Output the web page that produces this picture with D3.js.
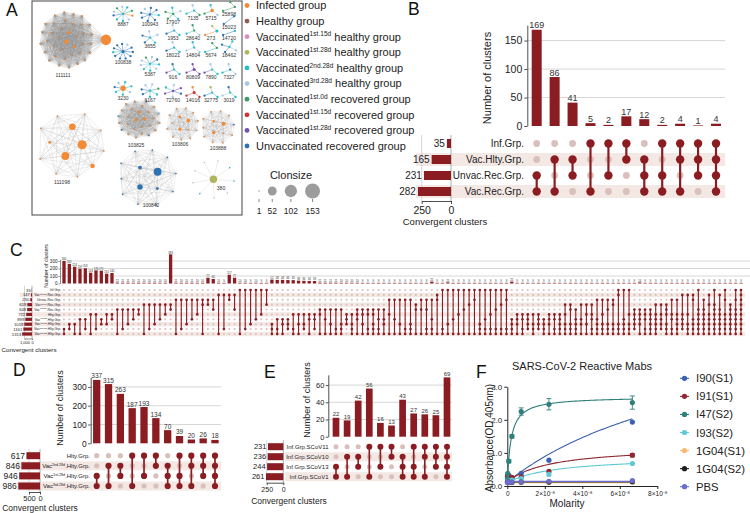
<!DOCTYPE html>
<html>
<head>
<meta charset="utf-8">
<script src="https://cdn.jsdelivr.net/npm/d3@7/dist/d3.min.js"></script>
<style>
  body { margin: 0; background: #fff; }
  svg { font-family: "Liberation Sans", Arial, Helvetica, sans-serif; display: block; }
</style>
</head>
<body>
<svg id="fig" width="750" height="513"></svg>
<script>
// ---------------- data ----------------
// A: groups (legend order)
const groupCodes = ["i", "h", "p", "o", "c", "l", "g", "r", "v", "u"];
const groupColors = ["#F28A36", "#8C5B4F", "#DE8BC4", "#AFB55C", "#27BCCB", "#A8C6E2", "#3A9D69", "#D3302F", "#7251AE", "#2D73B0"];
const groupLabels = [
  "Infected group", "Healthy group",
  "Vaccinated^{1st.15d} healthy group", "Vaccinated^{1st.28d} healthy group",
  "Vaccinated^{2nd.28d} healthy group", "Vaccinated^{3rd.28d} healthy group",
  "Vaccinated^{1st.0d} recovered group", "Vaccinated^{1st.15d} recovered group",
  "Vaccinated^{1st.28d} recovered group", "Unvaccinated recovered group"
];
const clonsizeTicks = [1, 52, 102, 153];

// A: large clusters (one letter per clonotype = group code)
const bigIds = ["111111", "111098", "103825", "103806", "103888", "100842", "380"];
const bigNodes = [
  "iiiiiiiiiiiiiiiiiiiiiiiiiiiiiiiiiiiiii",
  "iiiiiiiiiiiii",
  "iiiiiiiiiiiiiiiiiiiiiiuuucl",
  "iiiiiiiiiiiiiii",
  "iiiiiiiiiiiiiu",
  "uuuuuuuuuuuuuu",
  "oclllcllcl"
];
const bigSizes = [[70, 12, 6, 4], [55, 40, 28, 12, 4], [6, 5, 4], [7, 5, 4], [9, 6, 3], [40, 18, 8, 4], [35]];
const bigTopo = ["full", "full", "full", "full", "full", "full", "star"];

// A: small clusters
const smallIds = ["8887", "100943", "17907", "7135", "5715", "25898", "15023", "14720", "273", "28640", "1953", "3655",
  "100838", "18021", "14804", "5674", "18462", "5387", "916", "80809", "7890", "7327",
  "3230", "6167", "72760", "14016", "32775", "3019"];
const smallNodes = ["cclllgcgiuc", "uuuuuuulc", "ggccgl", "cclg", "igcl", "ggg", "uu", "cul", "cio", "gcgl", "culc", "culcul",
  "uuuuuuuuuclu", "culc", "clcl", "gcg", "cuclu", "cclllucgcl", "cvuc", "vvvv", "cvlc", "ucll",
  "iccluccl", "culcugcl", "vvlucvl", "rrir", "cuoc", "cluc"];
const smallHub = [1, 1, 1, 1, 3, 1, 1, 1, 2, 1, 1, 1, 2, 1, 1, 1, 1, 1, 1, 2, 1, 1, 8, 1, 1, 2, 1, 1];

// B
const bSets = ["Inf.Grp.", "Vac.Hlty.Grp.", "Unvac.Rec.Grp.", "Vac.Rec.Grp."];
const bSetSizes = [35, 165, 231, 282];
const bCounts = [169, 86, 41, 5, 2, 17, 12, 2, 4, 1, 4];
const bMembers = ["23", "13", "12", "03", "02", "01", "123", "023", "013", "012", "0123"];

// C
const cSets = ["Inf.Grp.", "Vac^{1st.15d}.Rec.Grp.", "Unvac.Rec.Grp.", "Vac^{1st.0d}.Rec.Grp.", "Vac^{1st.28d}.Rec.Grp.",
  "Hlty.Grp.", "Vac^{1st.28d}.Hlty.Grp.", "Vac^{1st.15d}.Hlty.Grp.", "Vac^{2nd.28d}.Hlty.Grp.", "Vac^{3rd.28d}.Hlty.Grp."];
const cSetSizes = [35, 147, 230, 619, 648, 772, 899, 1019, 1161, 1313];
const cCounts = [
  300, 262, 224, 197, 203, 144, 176, 171, 131, 140,
  12, 11, 11, 10, 11, 10, 10, 11, 10, 10,
  389, 11, 10, 10, 11, 10, 10, 77, 60, 10, 9, 117, 77,
  10, 10, 9, 10, 9, 9,
  52, 48, 48, 46, 45, 38, 36, 34, 33,
  12, 11, 11, 11, 10, 10, 10, 10, 9, 9, 9, 9,
  9, 9, 9, 9, 9, 9, 9, 9, 9, 25, 9, 9,
  15, 9, 9, 9, 9, 9, 9, 9, 9, 9, 9, 9,
  25, 9, 9, 9, 9, 9, 9, 9, 9, 9, 9, 9,
  9, 9, 9, 9, 9, 9, 9, 9, 9, 9, 9, 9,
  14, 9, 9, 9, 9, 9, 9, 9, 9, 9, 9, 9,
  9, 9, 9, 9, 9, 9, 9, 9
];
const cMembers = [
  "89", "78", "79", "69", "68", "59", "58", "67", "57", "56",
  "49", "48", "47", "46", "45", "39", "38", "37", "36", "35",
  "34", "29", "28", "27", "26", "25", "239", "23", "24", "19", "18", "12", "14",
  "09", "08", "07", "06", "05", "03",
  "789", "689", "679", "678", "589", "579", "578", "569", "568",
  "459", "469", "479", "489", "4789", "567", "5789", "4569", "4579", "4589", "45789", "4689",
  "4679", "259", "269", "279", "289", "2789", "349", "249", "2489", "2689", "129", "089",
  "079", "069", "059", "049", "039", "029", "0789", "0689", "0589", "0489", "0389", "0289",
  "6789", "5679", "5689", "5678", "5789", "5678", "6789", "5679", "5689", "56789", "35789", "34789",
  "46789", "3679", "3579", "35689", "26789", "25789", "24789", "23789", "01789", "06789", "05789", "45678",
  "45679", "45689", "456789", "356789", "35678", "345789", "25689", "256789", "15678", "15789", "126789", "0456789",
  "2456789", "1356789", "03456789", "1456789", "0256789", "3456789", "02456789", "0123456789"
];

// D
const dSets = ["Hlty.Grp.", "Vac^{2nd.28d}.Hlty.Grp.", "Vac^{1st.28d}.Hlty.Grp.", "Vac^{3rd.28d}.Hlty.Grp."];
const dSetSizes = [617, 846, 946, 986];
const dCounts = [337, 315, 263, 187, 193, 134, 70, 39, 20, 26, 18];
const dMembers = ["23", "13", "12", "03", "02", "01", "123", "023", "013", "012", "0123"];

// E
const eSets = ["Inf.Grp.SCoV11", "Inf.Grp.SCoV10", "Inf.Grp.SCoV13", "Inf.Grp.SCoV1"];
const eSetSizes = [231, 236, 244, 261];
const eCounts = [22, 19, 42, 56, 16, 13, 43, 27, 26, 25, 69];
const eMembers = ["23", "13", "12", "03", "02", "01", "123", "023", "013", "012", "0123"];

// F
const fConc = [6.67e-8, 2.22e-8, 7.41e-9, 2.47e-9, 8.23e-10, 2.74e-10, 9.14e-11];
const fNames = ["I90(S1)", "I91(S1)", "I47(S2)", "I93(S2)", "1G04(S1)", "1G04(S2)", "PBS"];
const fColors = ["#3B62AE", "#8E2A33", "#2F7F7A", "#5FCAD6", "#F4BB72", "#1E1E1E", "#6A6EC8"];
const fValues = [
  [1.93, 0.78, 0.38, 0.25, 0.32, 0.30, 0.28],
  [0.93, 0.44, 0.28, 0.26, 0.30, 0.32, 0.30],
  [2.52, 2.47, 2.25, 1.50, 0.75, 0.38, 0.22],
  [0.68, 0.35, 0.22, 0.18, 0.15, 0.14, 0.13],
  [0.12, 0.11, 0.10, 0.10, 0.10, 0.11, 0.10],
  [0.13, 0.12, 0.12, 0.11, 0.12, 0.11, 0.12],
  [0.16, 0.14, 0.12, 0.12, 0.11, 0.11, 0.11]
];
const fErrors = [
  [0.03, 0.03, 0.02, 0.02, 0.02, 0.02, 0.02],
  [0.05, 0.03, 0.02, 0.02, 0.02, 0.02, 0.02],
  [0.20, 0.17, 0.11, 0.05, 0.05, 0.03, 0.03],
  [0.02, 0.03, 0.02, 0.02, 0.02, 0.02, 0.02],
  [0.01, 0.01, 0.01, 0.01, 0.01, 0.01, 0.01],
  [0.01, 0.01, 0.01, 0.01, 0.01, 0.01, 0.01],
  [0.01, 0.01, 0.01, 0.01, 0.01, 0.01, 0.01]
];
// one-site binding fit: bottom + bmax * x / (kd + x)
const fBottom = [0.12, 0.12, 0.10, 0.10, 0.10, 0.12, 0.14];
const fBmax = [5.2, 1.09, 2.6, 0.8, 0, 0, 0];
const fKd = [1.15e-7, 2.3e-8, 2e-9, 2.6e-8, 1e-8, 1e-8, 1e-8];
const fXTicks = [0, 2e-8, 4e-8, 6e-8, 8e-8];
const fYTicks = [0, 1, 2, 3];

// ---------------- helpers ----------------
const svg = d3.select("#fig");
const RED = "#8B1C21", LIGHT = "#D9C0BB", BAND = "#F4E8E5", GRID = "#cdcdcd";

// text with ^{superscript} parts
function rich(t, str) {
  const fs = parseFloat(t.attr("font-size"));
  let raised = false;
  str.split(/(\^\{[^}]*\})/).filter(s => s.length).forEach(p => {
    const m = p.match(/^\^\{(.*)\}$/);
    if (m) {
      t.append("tspan").attr("font-size", fs * 0.6).attr("dy", -fs * 0.38).text(m[1]);
      raised = true;
    } else {
      t.append("tspan").attr("dy", raised ? fs * 0.38 : null).text(p);
      raised = false;
    }
  });
}

function styleAxis(a, fs, w) {
  a.attr("font-family", null).attr("font-size", fs);
  a.selectAll("path,line").attr("stroke", "#222").attr("stroke-width", w);
  a.selectAll("text").attr("fill", "#222");
}

function vtitle(g, txt, x, y, fs) {
  g.append("text").attr("transform", `translate(${x},${y}) rotate(-90)`)
    .attr("text-anchor", "middle").attr("dy", "0.35em").attr("font-size", fs).attr("fill", "#222").text(txt);
}

function panelLabel(txt, x, y) {
  svg.append("text").attr("x", x).attr("y", y).attr("font-size", 17.5).attr("fill", "#111").text(txt);
}

// ---------------- upset plot ----------------
function upset(sets, sizes, counts, members, o) {
  const g = svg.append("g");
  const x = d3.scalePoint().domain(d3.range(counts.length)).range(o.colRange);
  const y = d3.scaleLinear().domain(o.yDomain).range(o.yRange);
  const r = d3.scalePoint().domain(d3.range(sets.length)).range(o.rowRange);
  const sx = d3.scaleLinear().domain(o.setDomain).range(o.setRange);

  g.append("g").selectAll("rect").data(d3.range(sets.length).filter(i => i % 2 === 1)).join("rect")
    .attr("x", o.bandX[0]).attr("width", o.bandX[1] - o.bandX[0])
    .attr("y", i => r(i) - o.bandH / 2).attr("height", o.bandH).attr("fill", BAND);

  g.append("g").selectAll("line").data(o.yTicks.filter(t => t > 0)).join("line")
    .attr("x1", o.gridX[0]).attr("x2", o.gridX[1]).attr("y1", d => y(d)).attr("y2", d => y(d))
    .attr("stroke", GRID).attr("stroke-width", o.gridW);

  g.append("g").selectAll("rect").data(counts).join("rect")
    .attr("x", (d, i) => x(i) - o.barW / 2).attr("width", o.barW)
    .attr("y", d => y(d)).attr("height", d => y(0) - y(d)).attr("fill", RED);
  g.append("g").selectAll("text").data(counts).join("text")
    .attr("x", (d, i) => x(i)).attr("y", d => y(d) - o.valGap).attr("text-anchor", "middle")
    .attr("font-size", o.valFont).attr("fill", "#333").text(d => d);

  const ya = g.append("g").attr("transform", `translate(${o.axisX},0)`)
    .call(d3.axisLeft(y).tickValues(o.yTicks).tickSize(o.tickLen).tickSizeOuter(0).tickPadding(o.tickPad));
  styleAxis(ya, o.tickFont, o.axisW);
  vtitle(g, "Number of clusters", o.yTitle[0], o.yTitle[1], o.yTitle[2]);

  // matrix
  const cells = d3.cross(d3.range(counts.length), d3.range(sets.length))
    .map(([c, k]) => ({ c, k, on: members[c].includes(String(k)) }));
  g.append("g").selectAll("circle").data(cells.filter(d => !d.on)).join("circle")
    .attr("cx", d => x(d.c)).attr("cy", d => r(d.k)).attr("r", o.lightR).attr("fill", LIGHT);
  g.append("g").selectAll("line").data(members.map((m, c) => ({ c, rows: m.split("").map(Number) })).filter(d => d.rows.length > 1)).join("line")
    .attr("x1", d => x(d.c)).attr("x2", d => x(d.c))
    .attr("y1", d => r(d3.min(d.rows))).attr("y2", d => r(d3.max(d.rows)))
    .attr("stroke", RED).attr("stroke-width", o.lineW);
  g.append("g").selectAll("circle").data(cells.filter(d => d.on)).join("circle")
    .attr("cx", d => x(d.c)).attr("cy", d => r(d.k)).attr("r", o.dotR).attr("fill", RED);

  // set sizes
  const top = o.rowRange[0] - o.bandH / 2 - 2;
  o.setTicks.forEach(t => {
    g.append("line").attr("x1", sx(t)).attr("x2", sx(t)).attr("y1", top).attr("y2", o.setAxisY)
      .attr("stroke", t === 0 ? "#999" : "#ccc").attr("stroke-width", o.gridW);
  });
  g.append("g").selectAll("rect").data(sizes).join("rect")
    .attr("x", d => sx(d)).attr("width", d => sx(0) - sx(d))
    .attr("y", (d, i) => r(i) - o.setBarH / 2).attr("height", o.setBarH).attr("fill", RED);
  g.append("g").selectAll("text").data(sizes).join("text")
    .attr("x", d => sx(d) - o.setLabGap).attr("y", (d, i) => r(i)).attr("dy", "0.36em")
    .attr("text-anchor", "end").attr("font-size", o.setFont).attr("fill", "#222").text(d => d);
  const sa = g.append("g").attr("transform", `translate(0,${o.setAxisY})`)
    .call(d3.axisBottom(sx).tickValues(o.setTicks).tickSize(o.tickLen).tickSizeOuter(0).tickPadding(o.setTickPad));
  styleAxis(sa, o.setTickFont, o.axisW);
  g.append("text").attr("x", o.cTitle[0]).attr("y", o.cTitle[1]).attr("text-anchor", "middle")
    .attr("font-size", o.cTitle[2]).attr("fill", "#222").text("Convergent clusters");

  // row labels
  sets.forEach((s, k) => {
    const t = g.append("text").attr("x", o.labelX).attr("y", r(k)).attr("dy", "0.36em")
      .attr("text-anchor", "end").attr("font-size", o.rowFont).attr("fill", "#222");
    rich(t, s);
  });
}

// ---------------- panel A ----------------
const gA = svg.append("g");
gA.append("rect").attr("x", 32).attr("y", 1).attr("width", 210).attr("height", 214)
  .attr("fill", "none").attr("stroke", "#444").attr("stroke-width", 1);

const nodeR = d3.scaleSqrt().domain([1, 153]).range([0.8, 7.5]);
const colorOf = d3.scaleOrdinal().domain(groupCodes).range(groupColors);

function drawNetwork(str, sizes, topo, box, pin, small) {
  const nodes = str.split("").map((c, i) => ({ grp: c, size: sizes[i] || 1 }));
  const links = [];
  if (topo === "full") {
    for (let a = 0; a < nodes.length; a++) for (let b = a + 1; b < nodes.length; b++) links.push({ source: a, target: b });
  } else {
    for (let b = 1; b < nodes.length; b++) links.push({ source: 0, target: b });
  }
  if (pin) { nodes[0].fx = 75; nodes[0].fy = 0; }
  const sim = d3.forceSimulation(nodes)
    .force("charge", d3.forceManyBody().strength(-30))
    .force("link", d3.forceLink(links).distance(30))
    .force("center", d3.forceCenter(0, 0))
    .stop();
  for (let k = 0; k < 300; k++) sim.tick();
  let ex = d3.extent(nodes, d => d.x), ey = d3.extent(nodes, d => d.y);
  if (ex[1] - ex[0] < 1e-6) ex = [ex[0] - 1, ex[1] + 1];
  if (ey[1] - ey[0] < 1e-6) ey = [ey[0] - 1, ey[1] + 1];
  const sx = d3.scaleLinear().domain(ex).range([box[0], box[2]]);
  const sy = d3.scaleLinear().domain(ey).range([box[1], box[3]]);
  const g = gA.append("g");
  g.append("g").selectAll("line").data(links).join("line")
    .attr("x1", d => sx(d.source.x)).attr("y1", d => sy(d.source.y))
    .attr("x2", d => sx(d.target.x)).attr("y2", d => sy(d.target.y))
    .attr("stroke", d => small ? colorOf(d.target.grp) : "#8d8d8d")
    .attr("stroke-opacity", small ? 0.8 : 0.45).attr("stroke-width", small ? 0.6 : 0.35);
  g.append("g").selectAll("circle").data(nodes.slice().sort((a, b) => a.size - b.size)).join("circle")
    .attr("cx", d => sx(d.x)).attr("cy", d => sy(d.y)).attr("r", d => nodeR(d.size) * (small ? 1.45 : 1))
    .attr("fill", d => colorOf(d.grp));
}

// layout slots for the large clusters (network box, label position)
const bigBox = [[40, 12, 106, 68], [40, 114, 104, 177], [118, 101, 160, 138], [167, 108, 198, 140], [203, 111, 234, 143], [121, 150, 176, 205], [193, 161, 234, 198]];
const bigLabelAt = [[63, 77], [62, 184], [136, 147], [180, 146], [218, 150], [151, 207], [221, 190]];
bigIds.forEach((id, k) => {
  drawNetwork(bigNodes[k], bigSizes[k], bigTopo[k], bigBox[k], k === 0, false);
  gA.append("text").attr("x", bigLabelAt[k][0]).attr("y", bigLabelAt[k][1]).attr("text-anchor", "middle")
    .attr("font-size", 5).attr("fill", "#333").text(id);
});

// grid for the small clusters
const smallCol = [0, 1, 2, 3, 4, 5, 5, 5, 4, 3, 2, 1, 0, 2, 3, 4, 5, 1, 2, 3, 4, 5, 0, 1, 2, 3, 4, 5];
const smallRow = [0.3, 0.3, 0.2, 0, 0, -0.2, 0.45, 1, 1, 1, 1, 1.45, 2.3, 2, 2, 2, 2, 2.85, 3, 3, 3, 3, 3.9, 4, 4, 4, 4, 4];
const gridX = d3.scaleLinear().domain([0, 1, 2, 3, 4, 5]).range([123, 150, 173, 193, 211, 229]);
const gridY = d3.scaleLinear().domain([0, 1, 2, 3, 4]).range([20, 40, 57, 79, 102]);
smallIds.forEach((id, k) => {
  const n = smallNodes[k].length;
  const w = 4 + 4.5 * Math.sqrt(n), h = w * 0.75;
  const cx = gridX(smallCol[k]), ly = gridY(smallRow[k]);
  drawNetwork(smallNodes[k], [smallHub[k]], "star", [cx - w / 2, ly - 5 - h, cx + w / 2, ly - 5], false, true);
  gA.append("text").attr("x", cx).attr("y", ly).attr("text-anchor", "middle")
    .attr("font-size", 5).attr("fill", "#333").text(id);
});

// legend
const legY = d3.scalePoint().domain(d3.range(groupLabels.length)).range([5.5, 146]);
groupLabels.forEach((lab, k) => {
  gA.append("circle").attr("cx", 247).attr("cy", legY(k)).attr("r", 2.4).attr("fill", groupColors[k]);
  const t = gA.append("text").attr("x", 256).attr("y", legY(k) + 3.9).attr("font-size", 11).attr("fill", "#222");
  rich(t, lab);
});
gA.append("text").attr("x", 291).attr("y", 179).attr("text-anchor", "middle").attr("font-size", 11).attr("fill", "#222").text("Clonsize");
let cxPos = 259;
clonsizeTicks.forEach((v, k) => {
  if (k > 0) cxPos += nodeR(clonsizeTicks[k - 1]) + nodeR(v) + 8;
  gA.append("circle").attr("cx", cxPos).attr("cy", 191).attr("r", nodeR(v)).attr("fill", "#9c9c9c");
  gA.append("line").attr("x1", cxPos).attr("x2", cxPos).attr("y1", 199).attr("y2", 202).attr("stroke", "#555").attr("stroke-width", 0.7);
  gA.append("text").attr("x", cxPos).attr("y", 214).attr("text-anchor", "middle").attr("font-size", 8.5).attr("fill", "#222").text(v);
});

// ---------------- panels B-E ----------------
upset(bSets, bSetSizes, bCounts, bMembers, {
  colRange: [536.7, 716], barW: 10, yDomain: [0, 177], yRange: [126, 25.2], yTicks: [0, 50, 100, 150],
  rowRange: [143.5, 191.5], dotR: 4.2, lightR: 3.4, lineW: 2.2,
  setDomain: [0, 250], setRange: [451, 421.7], setTicks: [250, 0], setBarH: 9, setAxisY: 201,
  labelX: 524, rowFont: 10, bandX: [416, 725], bandH: 13,
  gridX: [527.3, 725], gridW: 0.8, axisX: 527.3, tickLen: 3, tickPad: 2, tickFont: 10.5, axisW: 0.8,
  valFont: 9, valGap: 1.5, setFont: 10, setLabGap: 2, setTickFont: 10.5, setTickPad: 3,
  yTitle: [487, 78, 11], cTitle: [445, 225, 9.5]
});
upset(cSets, cSetSizes, cCounts, cMembers, {
  colRange: [64, 741], barW: 3.3, yDomain: [0, 320], yRange: [283.5, 259.5], yTicks: [0, 100, 200, 300],
  rowRange: [290, 334], dotR: 1.35, lightR: 1.05, lineW: 1.1,
  setDomain: [0, 1000], setRange: [32, 24.5], setTicks: [1000, 0], setBarH: 3.2, setAxisY: 338.5,
  labelX: 61, rowFont: 3.4, bandX: [20, 745], bandH: 4.4,
  gridX: [60, 750], gridW: 0.8, axisX: 60, tickLen: 1.5, tickPad: 1, tickFont: 4.6, axisW: 0.5,
  valFont: 2.8, valGap: 0.8, setFont: 4.2, setLabGap: 1, setTickFont: 4, setTickPad: 1,
  yTitle: [46, 266, 5.2], cTitle: [29, 352, 6.2]
});
upset(dSets, dSetSizes, dCounts, dMembers, {
  colRange: [96.7, 215], barW: 7.3, yDomain: [0, 350], yRange: [443.3, 377.5], yTicks: [0, 100, 200, 300],
  rowRange: [455.7, 486], dotR: 3.1, lightR: 2.6, lineW: 1.7,
  setDomain: [0, 500], setRange: [40, 29], setTicks: [500, 0], setBarH: 7, setAxisY: 492,
  labelX: 90, rowFont: 6, bandX: [17, 221], bandH: 9,
  gridX: [90.7, 221], gridW: 0.8, axisX: 90.7, tickLen: 2.5, tickPad: 1.5, tickFont: 8.5, axisW: 0.8,
  valFont: 6.5, valGap: 1.5, setFont: 8.5, setLabGap: 1.5, setTickFont: 7.5, setTickPad: 1,
  yTitle: [60, 408, 9], cTitle: [40, 510.5, 8.5]
});
upset(eSets, eSetSizes, eCounts, eMembers, {
  colRange: [336, 447], barW: 6.7, yDomain: [0, 72], yRange: [436.7, 374.8], yTicks: [0, 20, 40, 60],
  rowRange: [446.7, 476.7], dotR: 3, lightR: 2.5, lineW: 1.6,
  setDomain: [0, 250], setRange: [283.3, 266.7], setTicks: [250, 0], setBarH: 7, setAxisY: 482.7,
  labelX: 328.5, rowFont: 6, bandX: [285, 452], bandH: 9,
  gridX: [328.3, 452], gridW: 0.8, axisX: 328.3, tickLen: 2.5, tickPad: 1.5, tickFont: 7.5, axisW: 0.8,
  valFont: 6, valGap: 1.5, setFont: 7.5, setLabGap: 1.5, setTickFont: 7, setTickPad: 2,
  yTitle: [307, 400, 9], cTitle: [289, 504, 8.5]
});

// ---------------- panel F ----------------
const gF = svg.append("g");
const fx = d3.scaleLinear().domain([0, 8e-8]).range([507.3, 657.3]);
const fy = d3.scaleLinear().domain([0, 3]).range([486, 386.7]);
const xa = gF.append("g").attr("transform", "translate(0,486)")
  .call(d3.axisBottom(fx).tickValues(fXTicks).tickSize(3).tickSizeOuter(0).tickPadding(2)
    .tickFormat(d => d === 0 ? "0" : `${Math.round(d / 1e-8)}×10⁻⁸`));
styleAxis(xa, 6.5, 1);
const yaF = gF.append("g").attr("transform", "translate(507.3,0)")
  .call(d3.axisLeft(fy).tickValues(fYTicks).tickSize(3).tickSizeOuter(0).tickPadding(2));
styleAxis(yaF, 8, 1);
gF.append("text").attr("x", 582).attr("y", 370).attr("text-anchor", "middle").attr("font-size", 11).attr("fill", "#222").text("SARS-CoV-2 Reactive Mabs");
gF.append("text").attr("x", 567).attr("y", 506.5).attr("text-anchor", "middle").attr("font-size", 10).attr("fill", "#222").text("Molarity");
vtitle(gF, "Absorbance(OD 405nm)", 489, 438, 10);

const curveX = d3.range(0, 101).map(i => d3.max(fConc) * i / 100);
const line = d3.line().x(d => fx(d[0])).y(d => fy(d[1]));
fNames.forEach((name, s) => {
  const fit = curveX.map(c => [c, fBottom[s] + fBmax[s] * c / (fKd[s] + c)]);
  gF.append("path").attr("d", line(fit)).attr("fill", "none").attr("stroke", fColors[s]).attr("stroke-width", 1.1);
});
fNames.forEach((name, s) => {
  const pts = fConc.map((c, i) => ({ c, v: fValues[s][i], e: fErrors[s][i] }));
  const eg = gF.append("g").attr("stroke", fColors[s]).attr("stroke-width", 0.9);
  pts.filter(p => p.e >= 0.05).forEach(p => {
    eg.append("line").attr("x1", fx(p.c)).attr("x2", fx(p.c)).attr("y1", fy(p.v - p.e)).attr("y2", fy(p.v + p.e));
    [p.v - p.e, p.v + p.e].forEach(v => eg.append("line").attr("x1", fx(p.c) - 2.5).attr("x2", fx(p.c) + 2.5).attr("y1", fy(v)).attr("y2", fy(v)));
  });
  gF.append("g").selectAll("circle").data(pts).join("circle")
    .attr("cx", p => fx(p.c)).attr("cy", p => fy(p.v)).attr("r", 2.6).attr("fill", fColors[s]);
});
const fLegY = d3.scalePoint().domain(fNames).range([378.3, 486.7]);
fNames.forEach((name, s) => {
  const yy = fLegY(name);
  gF.append("line").attr("x1", 680).attr("x2", 689).attr("y1", yy).attr("y2", yy).attr("stroke", fColors[s]).attr("stroke-width", 1.1);
  gF.append("circle").attr("cx", 684.5).attr("cy", yy).attr("r", 2.6).attr("fill", fColors[s]);
  gF.append("text").attr("x", 696).attr("y", yy + 4).attr("font-size", 11.3).attr("fill", "#222").text(name);
});

// ---------------- panel letters ----------------
panelLabel("A", 6, 16);
panelLabel("B", 408, 15);
panelLabel("C", 10, 256);
panelLabel("D", 13, 376);
panelLabel("E", 264, 378);
panelLabel("F", 476, 378);
</script>
</body>
</html>
